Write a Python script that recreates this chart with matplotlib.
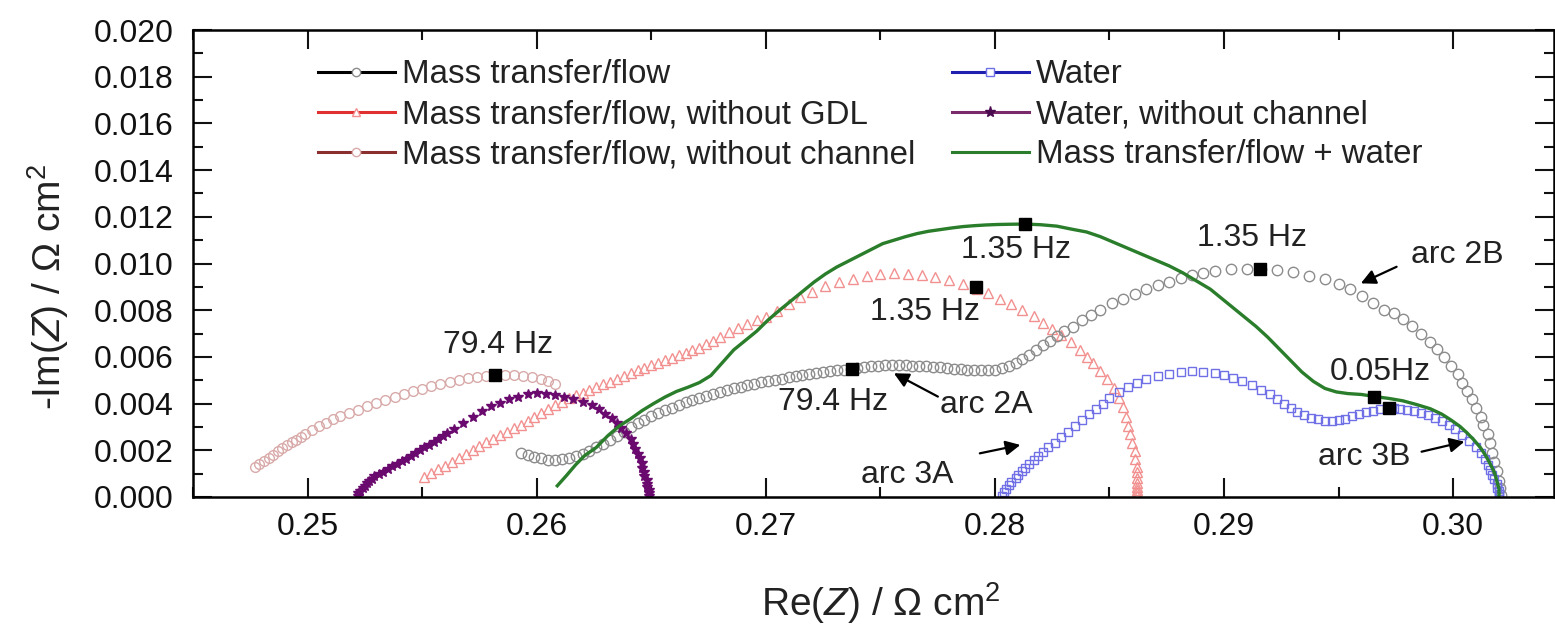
import matplotlib
matplotlib.use("Agg")
import matplotlib.pyplot as plt
from matplotlib.lines import Line2D
from matplotlib.ticker import MultipleLocator, FormatStrFormatter

plt.rcParams['font.family'] = ['Liberation Sans', 'DejaVu Sans']
plt.rcParams['mathtext.fontset'] = 'custom'
plt.rcParams['mathtext.rm'] = 'Liberation Sans'
plt.rcParams['mathtext.it'] = 'Liberation Sans:italic'

# ---- data (Re(Z), -Im(Z) in ohm cm^2) ----
# Mass transfer/flow (grey open circles)
mt_re = [0.2593, 0.2596, 0.2599, 0.2602, 0.2605, 0.2608, 0.2611, 0.2614, 0.2617, 0.2620,
         0.2623, 0.2626, 0.2629, 0.2632, 0.2635, 0.2638, 0.2641, 0.2644, 0.2647, 0.2650,
         0.2653, 0.2656, 0.2659, 0.2662, 0.2665, 0.2668, 0.2671, 0.2674, 0.2677, 0.2680,
         0.2683, 0.2686, 0.2689, 0.2692, 0.2695, 0.2698, 0.2701, 0.2704, 0.2707, 0.2710,
         0.2713, 0.2716, 0.2719, 0.2722, 0.2725, 0.2728, 0.2731, 0.2734, 0.2737, 0.2740,
         0.2743, 0.2746, 0.2749, 0.2752, 0.2755, 0.2758, 0.2761, 0.2764, 0.2767, 0.2770,
         0.2773, 0.2776, 0.2779, 0.2782, 0.2785, 0.2788, 0.2791, 0.2794, 0.2797, 0.2800,
         0.2803, 0.2806, 0.2809, 0.2812, 0.2815, 0.2818, 0.2821, 0.2824, 0.2827, 0.2830,
         0.2834, 0.2838, 0.2842, 0.2846, 0.2851, 0.2856, 0.2861, 0.2866, 0.2871, 0.2876,
         0.2881, 0.2886, 0.2891, 0.2896, 0.2903, 0.2910, 0.2916, 0.2923, 0.2930, 0.2937,
         0.2944, 0.2950, 0.2955, 0.2960, 0.2965, 0.2970, 0.2974, 0.2978, 0.2982, 0.2986,
         0.2990, 0.2993, 0.2996, 0.2999, 0.3002, 0.3004, 0.3006, 0.3008, 0.3010, 0.3012,
         0.3013, 0.3015, 0.3016, 0.3017, 0.3018, 0.3019, 0.3020, 0.30205, 0.3021]
mt_im = [0.00190, 0.00180, 0.00170, 0.00165, 0.00160, 0.00160, 0.00163, 0.00168, 0.00176, 0.00186,
         0.00198, 0.00212, 0.00228, 0.00245, 0.00262, 0.00280, 0.00298, 0.00315, 0.00330, 0.00345,
         0.00358, 0.00371, 0.00383, 0.00394, 0.00405, 0.00415, 0.00425, 0.00434, 0.00443, 0.00451,
         0.00459, 0.00466, 0.00473, 0.00480, 0.00486, 0.00492, 0.00497, 0.00502, 0.00507, 0.00512,
         0.00517, 0.00522, 0.00527, 0.00531, 0.00535, 0.00539, 0.00542, 0.00545, 0.00549, 0.00553,
         0.00557, 0.00560, 0.00563, 0.00565, 0.00566, 0.00566, 0.00565, 0.00563, 0.00561, 0.00559,
         0.00557, 0.00555, 0.00553, 0.00550, 0.00548, 0.00546, 0.00544, 0.00543, 0.00543, 0.00546,
         0.00552, 0.00562, 0.00575, 0.00590, 0.00610, 0.00630, 0.00650, 0.00670, 0.00690, 0.00710,
         0.00730, 0.00760, 0.00780, 0.00800, 0.00830, 0.00850, 0.00870, 0.00890, 0.00910, 0.00920,
         0.00940, 0.00950, 0.00960, 0.00970, 0.00975, 0.00978, 0.00978, 0.00972, 0.00962, 0.00948,
         0.00932, 0.00912, 0.00890, 0.00862, 0.00830, 0.00800, 0.00790, 0.00762, 0.00732, 0.00700,
         0.00665, 0.00633, 0.00598, 0.00562, 0.00525, 0.00490, 0.00455, 0.00420, 0.00382, 0.00343,
         0.00310, 0.00270, 0.00230, 0.00190, 0.00150, 0.00110, 0.00070, 0.00040, 0.00010]

# Mass transfer/flow, without GDL (red open triangles)
gdl_re = [0.2551, 0.2554, 0.2557, 0.2560, 0.2563, 0.2566, 0.2569, 0.2572, 0.2575, 0.2578,
          0.2581, 0.2584, 0.2587, 0.2590, 0.2593, 0.2596, 0.2599, 0.2602, 0.2605, 0.2608,
          0.2611, 0.2614, 0.2617, 0.2620, 0.2623, 0.2626, 0.2629, 0.2632, 0.2635, 0.2638,
          0.2641, 0.2644, 0.2647, 0.2650, 0.2653, 0.2656, 0.2659, 0.2662, 0.2665, 0.2668,
          0.2671, 0.2674, 0.2677, 0.2680, 0.2684, 0.2688, 0.2692, 0.2696, 0.2700, 0.2705,
          0.2710, 0.2715, 0.2720, 0.2726, 0.2732, 0.2738, 0.2744, 0.2750, 0.2756, 0.2762,
          0.2768, 0.2774, 0.2780, 0.2786, 0.2792, 0.2797, 0.2802, 0.2807, 0.2812, 0.2817,
          0.2821, 0.2825, 0.2829, 0.2833, 0.2837, 0.2840, 0.2843, 0.2846, 0.2849, 0.2852,
          0.2854, 0.2856, 0.2857, 0.2858, 0.2859, 0.2860, 0.2861, 0.2861, 0.2862, 0.2862,
          0.2862, 0.2862, 0.2862, 0.2862, 0.2862, 0.2862]
gdl_im = [0.00087, 0.00102, 0.00118, 0.00134, 0.00150, 0.00166, 0.00183, 0.00200, 0.00217, 0.00234,
          0.00250, 0.00265, 0.00280, 0.00295, 0.00310, 0.00325, 0.00342, 0.00360, 0.00377, 0.00393,
          0.00408, 0.00422, 0.00435, 0.00447, 0.00458, 0.00470, 0.00482, 0.00494, 0.00506, 0.00518,
          0.00530, 0.00542, 0.00553, 0.00564, 0.00575, 0.00587, 0.00597, 0.00607, 0.00617, 0.00628,
          0.00640, 0.00654, 0.00670, 0.00686, 0.00705, 0.00724, 0.00742, 0.00758, 0.00770, 0.00795,
          0.00825, 0.00855, 0.00880, 0.00905, 0.00922, 0.00935, 0.00947, 0.00955, 0.00958, 0.00956,
          0.00950, 0.00942, 0.00930, 0.00912, 0.00890, 0.00872, 0.00850, 0.00828, 0.00800, 0.00776,
          0.00745, 0.00718, 0.00692, 0.00665, 0.00630, 0.00600, 0.00572, 0.00540, 0.00505, 0.00465,
          0.00425, 0.00385, 0.00344, 0.00305, 0.00268, 0.00230, 0.00195, 0.00162, 0.00130, 0.00105,
          0.00082, 0.00062, 0.00044, 0.00028, 0.00015, 0.00005]

# Mass transfer/flow, without channel (pale open circles)
noch_re = [0.2477, 0.2479, 0.2481, 0.2483, 0.2485, 0.2487, 0.2489, 0.2491, 0.2493, 0.2495,
           0.2497, 0.2499, 0.2502, 0.2505, 0.2508, 0.2511, 0.2514, 0.2518, 0.2522, 0.2526,
           0.2530, 0.2534, 0.2538, 0.2542, 0.2546, 0.2550, 0.2554, 0.2558, 0.2562, 0.2566,
           0.2570, 0.2574, 0.2578, 0.2582, 0.2586, 0.2590, 0.2594, 0.2598, 0.2602, 0.2605,
           0.2608]
noch_im = [0.00130, 0.00143, 0.00156, 0.00169, 0.00182, 0.00195, 0.00208, 0.00221, 0.00234, 0.00246,
           0.00258, 0.00270, 0.00287, 0.00303, 0.00319, 0.00333, 0.00345, 0.00360, 0.00374, 0.00388,
           0.00402, 0.00415, 0.00428, 0.00440, 0.00452, 0.00463, 0.00474, 0.00484, 0.00493, 0.00501,
           0.00508, 0.00514, 0.00519, 0.00522, 0.00524, 0.00523, 0.00520, 0.00515, 0.00507, 0.00497,
           0.00486]

# Water (blue open squares)
w_re = [0.2803, 0.2804, 0.2805, 0.2806, 0.2807, 0.2809, 0.2810, 0.2812, 0.2813, 0.2815,
        0.2817, 0.2819, 0.2821, 0.2823, 0.2826, 0.2829, 0.2832, 0.2835, 0.2838, 0.2841,
        0.2844, 0.2847, 0.2850, 0.2854, 0.2858, 0.2862, 0.2866, 0.2871, 0.2876, 0.2881,
        0.2886, 0.2891, 0.2896, 0.2900, 0.2904, 0.2908, 0.2912, 0.2916, 0.2920, 0.2923,
        0.2926, 0.2929, 0.2932, 0.2935, 0.2938, 0.2941, 0.2944, 0.2947, 0.2950, 0.2953,
        0.2956, 0.2959, 0.2962, 0.2965, 0.2968, 0.2971, 0.2974, 0.2977, 0.2980, 0.2983,
        0.2986, 0.2989, 0.2992, 0.2995, 0.2998, 0.3001, 0.3004, 0.3007, 0.3010, 0.3012,
        0.3014, 0.3015, 0.3016, 0.3017, 0.3018, 0.3019, 0.3019, 0.3020, 0.3020, 0.3020]
w_im = [0.00005, 0.00020, 0.00035, 0.00050, 0.00065, 0.00080, 0.00095, 0.00110, 0.00125, 0.00140,
        0.00158, 0.00176, 0.00194, 0.00212, 0.00232, 0.00255, 0.00280, 0.00305, 0.00330, 0.00355,
        0.00378, 0.00400, 0.00425, 0.00450, 0.00472, 0.00490, 0.00505, 0.00518, 0.00528, 0.00535,
        0.00538, 0.00537, 0.00531, 0.00522, 0.00510, 0.00495, 0.00478, 0.00460, 0.00440, 0.00420,
        0.00400, 0.00382, 0.00366, 0.00352, 0.00340, 0.00332, 0.00327, 0.00325, 0.00328, 0.00336,
        0.00346, 0.00356, 0.00364, 0.00370, 0.00375, 0.00378, 0.00380, 0.00378, 0.00374, 0.00368,
        0.00361, 0.00352, 0.00340, 0.00326, 0.00310, 0.00290, 0.00264, 0.00240, 0.00215, 0.00190,
        0.00162, 0.00138, 0.00116, 0.00095, 0.00075, 0.00056, 0.00040, 0.00025, 0.00012, 0.00003]

# Water, without channel (purple stars)
wnc_re = [0.2522, 0.2522, 0.2523, 0.2524, 0.2525, 0.2526, 0.2527, 0.2528, 0.2529, 0.2531,
          0.2533, 0.2535, 0.2537, 0.2539, 0.2541, 0.2543, 0.2545, 0.2547, 0.2549, 0.2551,
          0.2553, 0.2555, 0.2557, 0.2559, 0.2561, 0.2564, 0.2568, 0.2572, 0.2576, 0.2580,
          0.2584, 0.2588, 0.2592, 0.2596, 0.2600, 0.2604, 0.2608, 0.2612, 0.2616, 0.2620,
          0.2624, 0.2627, 0.2630, 0.2633, 0.2635, 0.2637, 0.2639, 0.2641, 0.2642, 0.2643,
          0.2644, 0.2645, 0.2646, 0.2646, 0.2647, 0.2647, 0.2648, 0.2648, 0.2648, 0.2649,
          0.2649, 0.2649]
wnc_im = [0.00005, 0.00015, 0.00026, 0.00037, 0.00048, 0.00058, 0.00068, 0.00078, 0.00088, 0.00098,
          0.00109, 0.00120, 0.00131, 0.00142, 0.00153, 0.00164, 0.00176, 0.00188, 0.00200, 0.00212,
          0.00224, 0.00236, 0.00248, 0.00260, 0.00272, 0.00290, 0.00317, 0.00343, 0.00368, 0.00388,
          0.00404, 0.00418, 0.00430, 0.00439, 0.00444, 0.00443, 0.00436, 0.00428, 0.00420, 0.00406,
          0.00392, 0.00375, 0.00357, 0.00337, 0.00315, 0.00294, 0.00272, 0.00250, 0.00228, 0.00206,
          0.00185, 0.00165, 0.00145, 0.00126, 0.00108, 0.00090, 0.00073, 0.00057, 0.00042, 0.00028,
          0.00015, 0.00004]

# Mass transfer/flow + water (green line)
sum_re = [0.2609, 0.2613, 0.2617, 0.2621, 0.2626, 0.2631, 0.2636, 0.2641, 0.2646, 0.2651,
          0.2656, 0.2661, 0.2666, 0.2671, 0.2676, 0.2681, 0.2686, 0.2691, 0.2696, 0.2701,
          0.2706, 0.2711, 0.2716, 0.2721, 0.2726, 0.2731, 0.2736, 0.2741, 0.2746, 0.2751,
          0.2756, 0.2761, 0.2766, 0.2771, 0.2776, 0.2781, 0.2786, 0.2791, 0.2796, 0.2801,
          0.2806, 0.2813, 0.2820, 0.2827, 0.2833, 0.2840, 0.2846, 0.2852, 0.2858, 0.2864,
          0.2870, 0.2876, 0.2882, 0.2888, 0.2894, 0.2899, 0.2904, 0.2909, 0.2914, 0.2919,
          0.2924, 0.2929, 0.2934, 0.2939, 0.2944, 0.2949, 0.2954, 0.2960, 0.2966, 0.2972,
          0.2978, 0.2984, 0.2990, 0.2995, 0.2999, 0.3003, 0.3006, 0.3009, 0.3012, 0.3014,
          0.3016, 0.3018, 0.3019, 0.3020, 0.3020]
sum_im = [0.00048, 0.00092, 0.00138, 0.00178, 0.00212, 0.00262, 0.00304, 0.00335, 0.00370, 0.00400,
          0.00428, 0.00452, 0.00470, 0.00490, 0.00520, 0.00575, 0.00630, 0.00670, 0.00710, 0.00758,
          0.00800, 0.00840, 0.00880, 0.00920, 0.00955, 0.00985, 0.01010, 0.01035, 0.01060, 0.01085,
          0.01100, 0.01115, 0.01128, 0.01138, 0.01145, 0.01152, 0.01158, 0.01162, 0.01165, 0.01167,
          0.01168, 0.01169, 0.01166, 0.01160, 0.01148, 0.01135, 0.01115, 0.01090, 0.01065, 0.01040,
          0.01015, 0.00990, 0.00960, 0.00925, 0.00890, 0.00850, 0.00810, 0.00770, 0.00730, 0.00685,
          0.00635, 0.00585, 0.00535, 0.00495, 0.00465, 0.00450, 0.00443, 0.00439, 0.00430, 0.00422,
          0.00412, 0.00396, 0.00378, 0.00355, 0.00330, 0.00302, 0.00275, 0.00245, 0.00210, 0.00180,
          0.00145, 0.00105, 0.00070, 0.00035, 0.00005]

# characteristic frequency points (filled squares)
freq_re = [0.25817, 0.27376, 0.27919, 0.28130, 0.29157, 0.29656, 0.29719]
freq_im = [0.00522, 0.00547, 0.00900, 0.01169, 0.00978, 0.00430, 0.00380]

# text labels (centre positions)
freq_labels = ['79.4 Hz', '79.4 Hz', '1.35 Hz', '1.35 Hz', '1.35 Hz', '0.05Hz']
freq_lab_re = [0.25831, 0.27293, 0.27693, 0.28094, 0.29121, 0.29681]
freq_lab_im = [0.00651, 0.00408, 0.00794, 0.01058, 0.01108, 0.00537]

arc_labels = ['arc 2A', 'arc 3A', 'arc 2B', 'arc 3B']
arc_lab_re = [0.27961, 0.27618, 0.30018, 0.29611]
arc_lab_im = [0.00394, 0.00094, 0.01036, 0.00173]
arc_tail_re = [0.27751, 0.27934, 0.29753, 0.29862]
arc_tail_im = [0.00430, 0.00187, 0.00986, 0.00194]
arc_head_re = [0.27559, 0.28111, 0.29597, 0.30049]
arc_head_im = [0.00530, 0.00223, 0.00915, 0.00237]

fig = plt.figure(figsize=(15.55, 6.28), dpi=100)
ax = fig.add_axes([193 / 1555, 131 / 628, 1361 / 1555, 467 / 628])

ax.plot(noch_re, noch_im, ls='none', marker='o', ms=7, mfc='none', mec='#d9aaaa', mew=1.0)
ax.plot(gdl_re, gdl_im, ls='none', marker='^', ms=7, mfc='none', mec='#f29090', mew=1.0)
ax.plot(mt_re, mt_im, ls='none', marker='o', ms=7.5, mfc='none', mec='#8c8c8c', mew=1.0)
ax.plot(w_re, w_im, ls='none', marker='s', ms=6, mfc='none', mec='#6f6fe6', mew=1.0)
ax.plot(wnc_re, wnc_im, ls='none', marker='*', ms=7, color='#6a0a6e')
ax.plot(sum_re, sum_im, '-', color='#2a7d2a', lw=2.4)
ax.plot(freq_re, freq_im, ls='none', marker='s', ms=9, color='black')

for t, x, y in zip(freq_labels, freq_lab_re, freq_lab_im):
    ax.text(x, y, t, fontsize=23, ha='center', va='center', color='#222222')
for t, x, y in zip(arc_labels, arc_lab_re, arc_lab_im):
    ax.text(x, y, t, fontsize=23, ha='center', va='center', color='#222222')
for x0, y0, x1, y1 in zip(arc_tail_re, arc_tail_im, arc_head_re, arc_head_im):
    ax.annotate('', xy=(x1, y1), xytext=(x0, y0),
                arrowprops=dict(arrowstyle='-|>', color='black', lw=1.6, mutation_scale=22,
                                shrinkA=0, shrinkB=0))

ax.set_xlim(0.245, 0.3044)
ax.set_ylim(0.0, 0.020)
ax.xaxis.set_major_locator(MultipleLocator(0.01))
ax.xaxis.set_minor_locator(MultipleLocator(0.005))
ax.yaxis.set_major_locator(MultipleLocator(0.002))
ax.yaxis.set_minor_locator(MultipleLocator(0.001))
ax.xaxis.set_major_formatter(FormatStrFormatter('%.2f'))
ax.yaxis.set_major_formatter(FormatStrFormatter('%.3f'))
ax.tick_params(which='both', direction='in', top=True, right=True, width=1.5, colors='#111111')
ax.tick_params(which='major', length=14, labelsize=23)
ax.tick_params(axis='x', which='major', pad=11)
ax.tick_params(axis='y', which='major', pad=14)
ax.tick_params(which='minor', length=7.5)
for s in ax.spines.values():
    s.set_linewidth(1.8)

ax.set_xlabel(r'Re($Z$) / $\Omega$ cm$^2$', fontsize=28, color='#222222')
ax.set_ylabel(r'-Im($Z$) / $\Omega$ cm$^2$', fontsize=28, color='#222222')
ax.xaxis.set_label_coords(0.5055, -0.178)
ax.yaxis.set_label_coords(-0.09, 0.45)

handles = [
    Line2D([], [], color='black', lw=2.2, marker='o', ms=6, mfc='white', mec='#8c8c8c'),
    Line2D([], [], color='#e03030', lw=2.2, marker='^', ms=6, mfc='white', mec='#f29090'),
    Line2D([], [], color='#8a2e2e', lw=2.2, marker='o', ms=6, mfc='white', mec='#d9aaaa'),
    Line2D([], [], color='#2020b0', lw=2.2, marker='s', ms=6, mfc='white', mec='#6f6fe6'),
    Line2D([], [], color='#7a2a6a', lw=2.2, marker='*', ms=8, mfc='#4a0a4e', mec='#4a0a4e'),
    Line2D([], [], color='#2a7d2a', lw=2.2),
]
labels = ['Mass transfer/flow', 'Mass transfer/flow, without GDL',
          'Mass transfer/flow, without channel', 'Water', 'Water, without channel',
          'Mass transfer/flow + water']
leg = ax.legend(handles, labels, ncol=2, loc='upper left', bbox_to_anchor=(0.0918, 0.937),
                frameon=False, fontsize=23.8, handlelength=2.33, handletextpad=0.22,
                columnspacing=1.1, labelspacing=0.27, borderpad=0, borderaxespad=0)
for t in leg.get_texts():
    t.set_color('#222222')

fig.savefig('out.png', dpi=100)
